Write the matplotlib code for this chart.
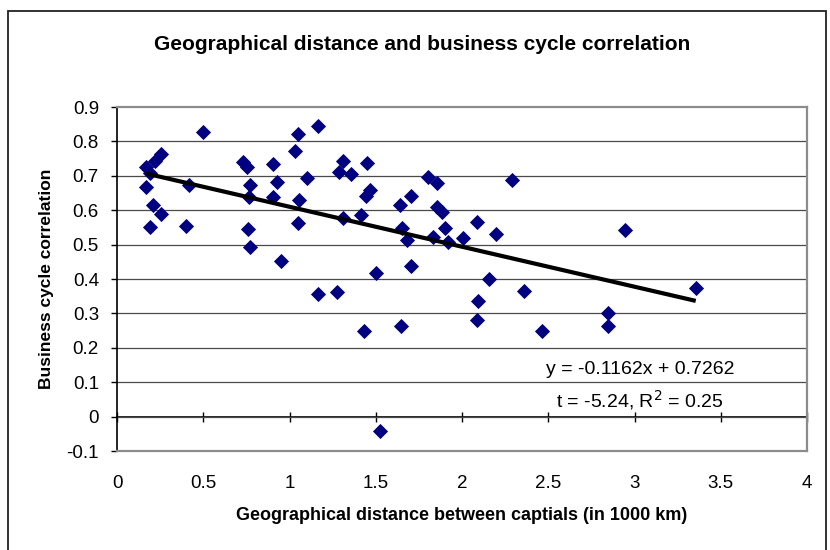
import matplotlib
matplotlib.use("Agg")
import matplotlib.pyplot as plt
from matplotlib.patches import Rectangle
import numpy as np

plt.rcParams['font.family'] = ['Liberation Sans', 'DejaVu Sans']

# Distance between capitals (1000 km) and business cycle correlation
distance = [0.168, 0.22, 0.253, 0.19, 0.168, 0.207, 0.253, 0.191, 0.50, 0.419, 0.40,
            0.73, 0.755, 0.771, 0.767, 0.761, 0.771, 0.906, 0.93, 0.906, 0.951,
            1.051, 1.032, 1.103, 1.057, 1.051, 1.167, 1.167, 1.277,
            1.312, 1.286, 1.358, 1.309, 1.413, 1.447, 1.467, 1.443, 1.434, 1.50, 1.525,
            1.641, 1.704, 1.651, 1.679, 1.704, 1.646,
            1.805, 1.853, 1.853, 1.882, 1.834, 1.901, 1.921, 2.008,
            2.085, 2.195, 2.157, 2.095, 2.085, 2.288, 2.361, 2.464,
            2.848, 2.848, 2.945, 3.355]
correlation = [0.727, 0.742, 0.764, 0.708, 0.667, 0.615, 0.589, 0.550, 0.826, 0.672, 0.555,
               0.740, 0.725, 0.673, 0.637, 0.546, 0.492, 0.734, 0.683, 0.637, 0.451,
               0.822, 0.771, 0.694, 0.631, 0.562, 0.846, 0.357, 0.363,
               0.742, 0.710, 0.706, 0.577, 0.587, 0.738, 0.659, 0.642, 0.250, 0.417, -0.041,
               0.615, 0.640, 0.549, 0.512, 0.437, 0.262,
               0.697, 0.679, 0.608, 0.595, 0.522, 0.548, 0.509, 0.520,
               0.567, 0.531, 0.400, 0.335, 0.281, 0.689, 0.364, 0.248,
               0.301, 0.263, 0.541, 0.374]

# Fitted trend line
slope = -0.1162
intercept = 0.7262
t_stat = -5.24
r_squared = 0.25

x_ticks = [0, 0.5, 1, 1.5, 2, 2.5, 3, 3.5, 4]
y_ticks = [-0.1, 0, 0.1, 0.2, 0.3, 0.4, 0.5, 0.6, 0.7, 0.8, 0.9]

fig = plt.figure(figsize=(8.3, 5.5), dpi=100)
ax = fig.add_axes([117 / 830, 99 / 550, 690 / 830, 344 / 550])

ax.set_xlim(0, 4)
ax.set_ylim(-0.1, 0.9)

# horizontal gridlines
for yv in y_ticks[1:-1]:
    ax.axhline(yv, color='#4a4a4a', lw=0.9, zorder=1)

# frame of the plot area
for side in ['top', 'right', 'bottom']:
    ax.spines[side].set_color('#8c8c8c')
    ax.spines[side].set_linewidth(1.6)
ax.spines['left'].set_color('black')
ax.spines['left'].set_linewidth(1.2)

ax.set_yticks(y_ticks)
ax.set_yticklabels([f"{v:g}" for v in y_ticks])
ax.tick_params(axis='y', direction='out', length=4, width=1, pad=9, labelsize=13.5)

ax.set_xticks(x_ticks)
ax.set_xticklabels([f"{v:g}" for v in x_ticks])
ax.tick_params(axis='x', length=0, pad=17, labelsize=13.5)

# horizontal axis line crossing at y = 0
zero_axis = ax.secondary_xaxis(location=0.1)
zero_axis.set_xticks(x_ticks)
zero_axis.tick_params(axis='x', direction='inout', length=7, width=1, labelbottom=False)
zero_axis.spines['bottom'].set_color('black')
zero_axis.spines['bottom'].set_linewidth(1.2)

ax.plot(distance, correlation, linestyle='none', marker='D', markersize=7.5,
        color='#000080', markeredgecolor='#000080', markeredgewidth=0.6, zorder=3)

x_line = np.array([min(distance), max(distance)])
ax.plot(x_line, intercept + slope * x_line, color='black', lw=3, zorder=4,
        solid_capstyle='butt')

ax.text(0.758, 0.2355, f"y = {slope:.4f}x + {intercept:.4f}", transform=ax.transAxes,
        ha='center', va='center', fontsize=14)
ax.text(0.758, 0.148, f"t = {t_stat:.2f}, R$^2$ = {r_squared:.2f}", transform=ax.transAxes,
        ha='center', va='center', fontsize=14)

ax.set_xlabel("Geographical distance between captials (in 1000 km)", fontsize=13,
              fontweight='bold', labelpad=11)
ax.set_ylabel("Business cycle correlation", fontsize=12.5, fontweight='bold', labelpad=9)

fig.text(422 / 830, 1 - 44 / 550, "Geographical distance and business cycle correlation",
         ha='center', va='center', fontsize=15, fontweight='bold')

# chart border
fig.add_artist(Rectangle((8 / 830, -0.1), 818 / 830, 0.1 + (550 - 11) / 550,
                         transform=fig.transFigure, fill=False, edgecolor='#222222',
                         linewidth=1.3))

fig.savefig("out.png", dpi=100)
